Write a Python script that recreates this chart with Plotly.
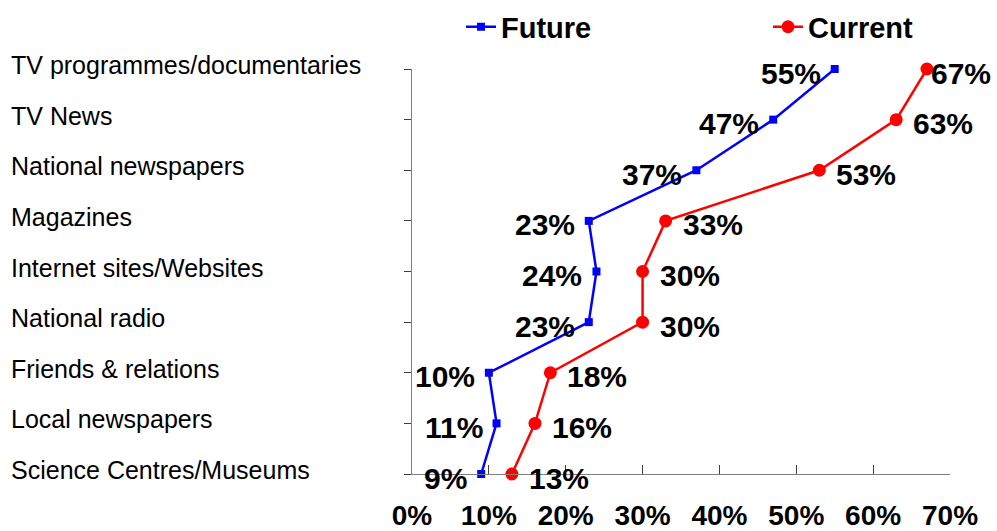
import plotly.graph_objects as go

# Information sources, listed bottom to top on the category axis
categories = [
    "Science Centres/Museums",
    "Local newspapers",
    "Friends & relations",
    "National radio",
    "Internet sites/Websites",
    "Magazines",
    "National newspapers",
    "TV News",
    "TV programmes/documentaries",
]
future = [0.09, 0.11, 0.10, 0.23, 0.24, 0.23, 0.37, 0.47, 0.55]
current = [0.13, 0.16, 0.18, 0.30, 0.30, 0.33, 0.53, 0.63, 0.67]

x_ticks = [0, 0.1, 0.2, 0.3, 0.4, 0.5, 0.6, 0.7]

BLUE = "#0000FF"
RED = "#FF0000"
FONT = "Liberation Sans, Arial, sans-serif"
LEGEND_FONT = dict(family=FONT, size=29, color="black", weight="bold")

fig = go.Figure()

fig.add_trace(go.Scatter(
    x=future, y=categories, name="Future", mode="lines+markers",
    line=dict(color=BLUE, width=2.5),
    marker=dict(symbol="square", size=8, color=BLUE),
    cliponaxis=False, legend="legend",
))
fig.add_trace(go.Scatter(
    x=current, y=categories, name="Current", mode="lines+markers",
    line=dict(color=RED, width=2.5),
    marker=dict(symbol="circle", size=13, color=RED),
    cliponaxis=False, legend="legend2",
))

annotations = []
# Value labels: future to the left of its markers, current to the right
for cat, v in zip(categories, future):
    annotations.append(dict(
        x=v, y=cat, xref="x", yref="y", text=f"{round(v * 100)}%",
        showarrow=False, xanchor="right", yanchor="middle",
        xshift=-12, yshift=-4,
        font=dict(family=FONT, size=30, color="black", weight="bold"),
    ))
for cat, v in zip(categories, current):
    shift = 2 if v >= 0.65 else 15
    annotations.append(dict(
        x=v, y=cat, xref="x", yref="y", text=f"{round(v * 100)}%",
        showarrow=False, xanchor="left", yanchor="middle",
        xshift=shift, yshift=-4,
        font=dict(family=FONT, size=30, color="black", weight="bold"),
    ))
# Left-aligned category names
for cat in categories:
    annotations.append(dict(
        x=-403 / 538, y=cat, xref="paper", yref="y", text=cat,
        showarrow=False, xanchor="left", yanchor="middle", yshift=4,
        font=dict(family=FONT, size=25, color="black"),
    ))

legend_common = dict(
    orientation="h", yanchor="middle", y=1.104, xanchor="left",
    font=LEGEND_FONT, bgcolor="rgba(0,0,0,0)", borderwidth=0,
    itemsizing="trace",
)

fig.update_layout(
    width=997, height=531,
    margin=dict(l=412, r=47, t=69, b=57, autoexpand=False),
    paper_bgcolor="white", plot_bgcolor="white",
    font=dict(family=FONT, color="black"),
    annotations=annotations,
    showlegend=True,
    legend=dict(x=49 / 538, **legend_common),
    legend2=dict(x=356 / 538, **legend_common),
    xaxis=dict(
        range=[0, 0.7], tickvals=x_ticks, tickformat=".0%",
        showline=True, linecolor="#808080", linewidth=1,
        ticks="inside", ticklen=9, tickcolor="#404040", tickwidth=1,
        ticklabelstandoff=16,
        tickfont=dict(family=FONT, size=28, color="black", weight="bold"),
        showgrid=False, zeroline=False, fixedrange=True,
    ),
    yaxis=dict(
        type="category", categoryorder="array", categoryarray=categories,
        range=[0, len(categories) - 1],
        showline=True, linecolor="#808080", linewidth=1,
        ticks="outside", ticklen=7, tickcolor="#404040", tickwidth=1,
        showticklabels=False, showgrid=False, zeroline=False, fixedrange=True,
    ),
)

fig.write_html("out.html", config={"displayModeBar": False})
